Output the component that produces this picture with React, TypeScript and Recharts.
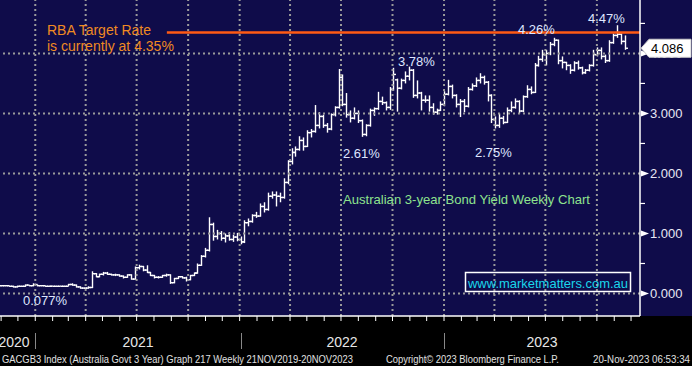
import { ComposedChart, Bar, XAxis, YAxis, ReferenceLine } from "recharts";

// weekly OHLC, GACGB3 (Australia Govt 3 Year), first week 02-Nov-2020
const firstWeek = "2020-11-02";

const opens = [
  0.13, 0.13, 0.13, 0.12, 0.11, 0.12, 0.12, 0.14, 0.13, 0.15, 0.13, 0.13, 0.12, 0.12, 0.12, 0.12, 0.12, 0.12, 0.15, 0.14, 0.11, 0.09, 0.09, 0.1,
  0.33, 0.28, 0.32, 0.34, 0.32, 0.31, 0.31, 0.29, 0.27, 0.31, 0.24, 0.43, 0.45, 0.39, 0.35, 0.3, 0.27, 0.27, 0.3, 0.31, 0.18, 0.25, 0.28, 0.26, 0.23, 0.3, 0.34, 0.47, 0.62, 0.72,
  1.15, 0.95, 1.0, 0.92, 0.96, 0.9, 0.94, 0.9, 0.86, 1.18, 1.2, 1.3, 1.29, 1.45, 1.4, 1.62, 1.64, 1.62, 1.6, 1.85, 2.2, 2.35, 2.4, 2.55, 2.45, 2.68,
  2.7, 2.8, 2.95, 2.8, 2.74, 2.98, 3.1, 3.6, 3.15, 2.98, 2.92, 3.0, 2.88, 2.65, 2.8, 3.05, 3.08, 3.2, 3.18, 3.1, 3.4, 3.56, 3.42, 3.55, 3.62, 3.72, 3.3, 3.34, 3.22, 3.22,
  3.1, 3.02, 3.05, 3.15, 3.32, 3.45, 3.3, 3.15, 3.2, 3.12, 3.4, 3.46, 3.55, 3.6, 3.52, 3.3, 2.9, 2.8, 2.92, 2.85, 3.05, 3.1, 3.2, 3.04, 3.28, 3.4, 3.35, 3.8, 3.9, 3.98,
  4.0, 4.15, 4.22, 3.88, 3.85, 3.8, 3.72, 3.84, 3.76, 3.68, 3.72, 3.8, 3.98, 4.05, 3.95, 3.88, 4.18, 4.3, 4.32, 4.2,
];

const highs = [
  0.14, 0.14, 0.13, 0.13, 0.13, 0.13, 0.15, 0.14, 0.17, 0.15, 0.14, 0.13, 0.13, 0.13, 0.13, 0.13, 0.13, 0.16, 0.17, 0.15, 0.12, 0.1, 0.12, 0.37,
  0.34, 0.33, 0.36, 0.36, 0.33, 0.33, 0.32, 0.3, 0.32, 0.32, 0.45, 0.48, 0.46, 0.47, 0.36, 0.31, 0.29, 0.31, 0.33, 0.32, 0.26, 0.29, 0.29, 0.28, 0.31, 0.35, 0.5, 0.64, 0.76, 1.27,
  1.18, 1.06, 1.04, 1.0, 1.02, 0.98, 1.01, 0.95, 1.22, 1.25, 1.32, 1.36, 1.5, 1.52, 1.68, 1.7, 1.7, 1.68, 1.92, 2.22, 2.42, 2.45, 2.62, 2.6, 2.72, 2.74,
  3.14, 3.02, 2.98, 2.84, 3.0, 3.12, 3.74, 3.65, 3.34, 3.05, 3.1, 3.05, 2.9, 2.82, 3.08, 3.1, 3.36, 3.28, 3.2, 3.44, 3.76, 3.58, 3.58, 3.7, 3.78, 3.74, 3.55, 3.36, 3.3, 3.3,
  3.17, 3.08, 3.2, 3.37, 3.56, 3.48, 3.32, 3.24, 3.24, 3.44, 3.5, 3.6, 3.67, 3.63, 3.54, 3.32, 2.95, 3.0, 2.96, 3.1, 3.2, 3.25, 3.22, 3.3, 3.47, 3.45, 3.84, 3.96, 4.06, 4.06,
  4.19, 4.26, 4.23, 3.95, 3.86, 3.82, 3.87, 3.88, 3.78, 3.74, 3.82, 4.06, 4.1, 4.1, 3.98, 4.22, 4.33, 4.47, 4.33, 4.3,
];

const lows = [
  0.12, 0.12, 0.11, 0.1, 0.1, 0.11, 0.11, 0.12, 0.12, 0.12, 0.12, 0.11, 0.11, 0.12, 0.11, 0.12, 0.11, 0.12, 0.13, 0.1, 0.08, 0.077, 0.08, 0.09,
  0.27, 0.27, 0.3, 0.31, 0.3, 0.29, 0.28, 0.25, 0.26, 0.23, 0.23, 0.4, 0.37, 0.34, 0.29, 0.25, 0.25, 0.26, 0.28, 0.16, 0.17, 0.24, 0.25, 0.2, 0.22, 0.29, 0.33, 0.46, 0.6, 0.7,
  0.88, 0.9, 0.88, 0.85, 0.88, 0.86, 0.87, 0.82, 0.84, 1.12, 1.18, 1.26, 1.28, 1.35, 1.38, 1.58, 1.45, 1.52, 1.58, 1.82, 2.15, 2.28, 2.38, 2.38, 2.44, 2.6,
  2.68, 2.75, 2.76, 2.68, 2.72, 2.95, 3.08, 3.12, 2.93, 2.85, 2.9, 2.84, 2.61, 2.62, 2.78, 2.96, 3.06, 3.14, 3.05, 3.06, 3.38, 3.03, 3.4, 3.5, 3.55, 3.26, 3.25, 3.05, 3.18, 3.03,
  2.98, 2.98, 3.04, 3.12, 3.3, 3.25, 3.1, 2.94, 3.02, 3.1, 3.38, 3.44, 3.5, 3.48, 3.2, 2.84, 2.75, 2.76, 2.82, 2.84, 3.02, 3.08, 3.0, 3.02, 3.26, 3.32, 3.34, 3.78, 3.86, 3.8,
  3.97, 4.12, 3.82, 3.75, 3.72, 3.66, 3.7, 3.73, 3.65, 3.66, 3.7, 3.78, 3.95, 3.9, 3.84, 3.86, 4.16, 4.26, 4.15, 4.06,
];

const closes = [
  0.13, 0.13, 0.12, 0.11, 0.12, 0.12, 0.14, 0.13, 0.15, 0.13, 0.13, 0.12, 0.12, 0.12, 0.12, 0.12, 0.12, 0.15, 0.14, 0.11, 0.09, 0.09, 0.1, 0.33,
  0.28, 0.32, 0.34, 0.32, 0.31, 0.31, 0.29, 0.27, 0.31, 0.24, 0.43, 0.45, 0.39, 0.35, 0.3, 0.27, 0.27, 0.3, 0.31, 0.18, 0.25, 0.28, 0.26, 0.23, 0.3, 0.34, 0.47, 0.62, 0.72, 1.15,
  0.95, 1.0, 0.92, 0.96, 0.9, 0.94, 0.9, 0.86, 1.18, 1.2, 1.3, 1.29, 1.45, 1.4, 1.62, 1.64, 1.62, 1.6, 1.85, 2.2, 2.35, 2.4, 2.55, 2.45, 2.68, 2.7,
  2.8, 2.95, 2.8, 2.74, 2.98, 3.1, 3.6, 3.15, 2.98, 2.92, 3.0, 2.88, 2.65, 2.8, 3.05, 3.08, 3.2, 3.18, 3.1, 3.4, 3.65, 3.42, 3.55, 3.62, 3.72, 3.3, 3.34, 3.22, 3.22, 3.1,
  3.02, 3.05, 3.15, 3.32, 3.45, 3.3, 3.15, 3.2, 3.12, 3.4, 3.46, 3.55, 3.6, 3.52, 3.3, 2.9, 2.8, 2.92, 2.85, 3.05, 3.1, 3.2, 3.04, 3.28, 3.4, 3.35, 3.8, 3.9, 3.98, 4.0,
  4.15, 4.22, 3.88, 3.85, 3.8, 3.72, 3.84, 3.76, 3.68, 3.72, 3.8, 3.98, 4.05, 3.95, 3.88, 4.18, 4.3, 4.32, 4.2, 4.086,
];

const rbaRate = 4.35;
const yTicks = [0, 0.5, 1, 1.5, 2, 2.5, 3, 3.5, 4, 4.5];
const quarterStarts = [
  "2021-01-01", "2021-04-01", "2021-07-01", "2021-10-01",
  "2022-01-01", "2022-04-01", "2022-07-01", "2022-10-01",
  "2023-01-01", "2023-04-01", "2023-07-01", "2023-10-01",
];
const yearLabels = [
  { label: "2020", x: 14 },
  { label: "2021", x: 138 },
  { label: "2022", x: 342 },
  { label: "2023", x: 542 },
];
const yearBreaks = [35, 241, 444];

const START = Date.UTC(2020, 9, 30);
const day = (s: string) => {
  const [y, m, d] = s.split("-").map(Number);
  return (Date.UTC(y, m - 1, d) - START) / 86400000;
};
const xDomain = [day("2020-10-30"), day("2023-12-17")];

const monthTicks: number[] = [];
for (let y = 2020; y <= 2023; y++) {
  for (let m = 1; m <= 12; m++) {
    const t = (Date.UTC(y, m - 1, 1) - START) / 86400000;
    if (t >= xDomain[0] && t <= xDomain[1]) monthTicks.push(t);
  }
}

const lastClose = closes[closes.length - 1];

const data = closes.map((c, i) => ({
  t: day(firstWeek) + 7 * i,
  open: opens[i],
  high: highs[i],
  low: lows[i],
  close: c,
  range: [lows[i], highs[i]],
}));

const FONT = "'Liberation Sans', Arial, sans-serif";
const NAVY = "#0f0c4a";
const GRID = "#9a9a9a";

const OhlcShape = (props: any) => {
  const { x, y, width, height, payload } = props;
  const top = Math.min(y, y + height);
  const bot = Math.max(y, y + height);
  const span = payload.high - payload.low;
  const py = (v: number) => (span > 0 ? bot - ((v - payload.low) / span) * (bot - top) : top);
  const cx = Math.round(x + width / 2) + 0.5;
  return (
    <g stroke="#ffffff" strokeWidth={1.4}>
      <line x1={cx} x2={cx} y1={top} y2={bot} />
      <line x1={cx - 2.5} x2={cx} y1={py(payload.open)} y2={py(payload.open)} />
      <line x1={cx} x2={cx + 2.5} y1={py(payload.close)} y2={py(payload.close)} />
    </g>
  );
};

const YTick = (props: any) => {
  const { x, y, payload } = props;
  const v = payload.value;
  if (v === lastClose) {
    return (
      <g>
        <polygon
          points={`${x + 1},${y} ${x + 9},${y - 9} ${x + 51},${y - 9} ${x + 51},${y + 9} ${x + 9},${y + 9}`}
          fill="#ffffff"
          stroke="#cccccc"
        />
        <text x={x + 11} y={y + 5} fontSize={13} fontFamily={FONT} fill="#000000">
          {v.toFixed(3)}
        </text>
      </g>
    );
  }
  if (v % 1 !== 0) {
    return <line x1={x} x2={x + 5} y1={y} y2={y} stroke="#ffffff" strokeWidth={1.2} />;
  }
  return (
    <g>
      <polygon points={`${x + 1},${y - 3} ${x + 9},${y} ${x + 1},${y + 3}`} fill="#ffffff" />
      <text x={x + 10} y={y + 5} fontSize={13} fontFamily={FONT} fill="#e8e8f4">
        {v.toFixed(3)}
      </text>
    </g>
  );
};

const pctLabels = [
  { text: "4.26%", x: 518, y: 34 },
  { text: "4.47%", x: 588, y: 23 },
  { text: "3.78%", x: 398, y: 66 },
  { text: "2.61%", x: 343, y: 158 },
  { text: "2.75%", x: 475, y: 157 },
  { text: "0.077%", x: 23, y: 305 },
];

export default function App() {
  return (
    <div
      style={{
        position: "absolute",
        left: 0,
        top: 0,
        width: 692,
        height: 366,
        background: "#000000",
        overflow: "hidden",
      }}
    >
      <div style={{ position: "absolute", left: 0, top: 0, width: 692, height: 316, background: NAVY }} />
      <div style={{ position: "absolute", left: 0, top: 0 }}>
        <ComposedChart width={692} height={366} data={data} margin={{ top: 0, right: 0, bottom: 0, left: 0 }}>
          <XAxis
            type="number"
            dataKey="t"
            domain={xDomain}
            ticks={monthTicks}
            interval={0}
            allowDataOverflow
            height={50}
            axisLine={{ stroke: "#ffffff", strokeWidth: 1.5 }}
            tickLine={{ stroke: "#ffffff" }}
            tickSize={5}
            tick={() => <g />}
          />
          <YAxis
            orientation="right"
            type="number"
            domain={[-0.375, 4.89]}
            allowDataOverflow
            width={52}
            ticks={[...yTicks, lastClose]}
            interval={0}
            axisLine={{ stroke: "#ffffff", strokeWidth: 1.5 }}
            tickLine={false}
            tickSize={0}
            tickMargin={0}
            tick={<YTick />}
          />
          {[0, 1, 2, 3, 4].map((v) => (
            <ReferenceLine key={`h${v}`} y={v} stroke={GRID} strokeWidth={2} strokeDasharray="2 3" />
          ))}
          {quarterStarts.map((q) => (
            <ReferenceLine key={q} x={day(q)} stroke={GRID} strokeWidth={2} strokeDasharray="2 3" />
          ))}
          <ReferenceLine
            segment={[
              { x: day("2021-08-24"), y: rbaRate },
              { x: xDomain[1], y: rbaRate },
            ]}
            stroke="#ff5a14"
            strokeWidth={2.5}
          />
          <Bar dataKey="range" barSize={4} shape={<OhlcShape />} isAnimationActive={false} />
        </ComposedChart>
      </div>
      <svg
        width={692}
        height={366}
        style={{ position: "absolute", left: 0, top: 0, pointerEvents: "none" }}
        fontFamily={FONT}
      >
        <text x={47} y={35} fontSize={14} fill="#f08a22">RBA Target Rate</text>
        <text x={47} y={51} fontSize={14} fill="#f08a22">is currently at 4.35%</text>
        {pctLabels.map((p) => (
          <text key={p.text} x={p.x} y={p.y} fontSize={13} fill="#dfe6ff">
            {p.text}
          </text>
        ))}
        <text x={343} y={204} fontSize={13} fill="#8ee38e" textLength={247} lengthAdjust="spacingAndGlyphs">
          Australian 3-year Bond Yield Weekly Chart
        </text>
        <rect x={465.5} y={272.5} width={165} height={19} fill="none" stroke="#ffffff" strokeWidth={1.5} />
        <text x={468} y={288} fontSize={13} fill="#1ad6ea" textLength={160} lengthAdjust="spacingAndGlyphs">
          www.marketmatters.com.au
        </text>
        {yearLabels.map((yl) => (
          <text key={yl.label} x={yl.x} y={347} fontSize={14} fill="#e6e6e6" textAnchor="middle">
            {yl.label}
          </text>
        ))}
        {yearBreaks.map((bx) => (
          <line key={bx} x1={bx + 0.5} x2={bx + 0.5} y1={333} y2={349} stroke="#888888" strokeWidth={1} />
        ))}
        <text x={2} y={363} fontSize={10.5} fill="#e0e0e0" textLength={351} lengthAdjust="spacingAndGlyphs">
          GACGB3 Index (Australia Govt 3 Year) Graph 217  Weekly 21NOV2019-20NOV2023
        </text>
        <text x={386} y={363} fontSize={10.5} fill="#e0e0e0" textLength={173} lengthAdjust="spacingAndGlyphs">
          Copyright© 2023 Bloomberg Finance L.P.
        </text>
        <text x={593} y={363} fontSize={10.5} fill="#e0e0e0" textLength={97} lengthAdjust="spacingAndGlyphs">
          20-Nov-2023 06:53:34
        </text>
      </svg>
    </div>
  );
}
